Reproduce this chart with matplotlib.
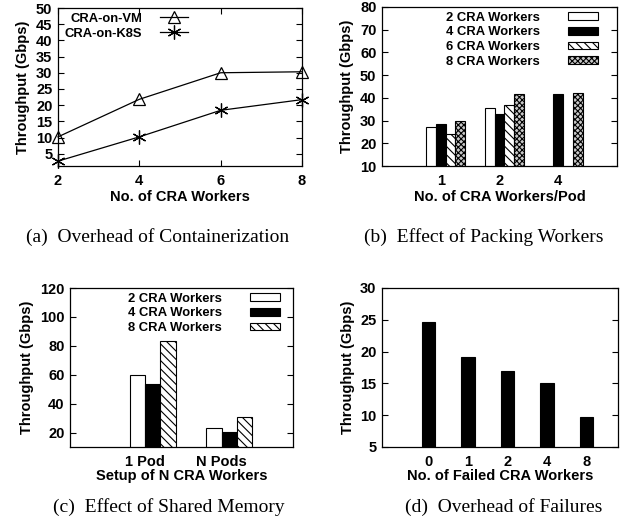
import numpy as np
import matplotlib
matplotlib.use('Agg')
import matplotlib.pyplot as plt

# (a) overhead of containerization
workers_a = [2, 4, 6, 8]
vm_tput = [10.2, 21.8, 30.0, 30.3]
k8s_tput = [2.7, 10.2, 18.4, 21.7]

# (b) effect of packing workers
pod_labels_b = ['1', '2', '4']
b_series = ['2 CRA Workers', '4 CRA Workers', '6 CRA Workers', '8 CRA Workers']
b_w2 = [27.1, 35.4, np.nan]
b_w4 = [28.3, 32.8, 41.6]
b_w6 = [24.0, 36.7, np.nan]
b_w8 = [29.6, 41.6, 42.2]

# (c) effect of shared memory
setup_labels_c = ['1 Pod', 'N Pods']
c_series = ['2 CRA Workers', '4 CRA Workers', '8 CRA Workers']
c_w2 = [60.0, 22.8]
c_w4 = [53.7, 20.7]
c_w8 = [83.5, 30.9]

# (d) overhead of failures
failed_labels_d = ['0', '1', '2', '4', '8']
d_tput = [24.7, 19.2, 17.0, 15.0, 9.7]

plt.rcParams['font.family'] = ['Liberation Sans', 'DejaVu Sans']
plt.rcParams['font.weight'] = 'bold'
plt.rcParams['hatch.linewidth'] = 0.8

FS = 10.5   # tick / axis label size
LFS = 9.4   # legend size

W, H = 629, 527
fig = plt.figure(figsize=(W / 100, H / 100), dpi=100)


def px_axes(left, top, right, bottom):
    return fig.add_axes([left / W, 1 - bottom / H, (right - left) / W, (bottom - top) / H])


def style(ax):
    ax.tick_params(direction='in', top=False, right=True, length=4, width=0.8,
                   labelsize=FS, pad=4)
    ax.tick_params(axis='x', pad=6)
    for s in ax.spines.values():
        s.set_linewidth(0.9)
    for lab in ax.get_xticklabels() + ax.get_yticklabels():
        lab.set_fontweight('bold')
    ax.set_ylabel('Throughput (Gbps)', fontsize=FS, fontweight='bold', labelpad=4)


def caption(x, y, txt):
    fig.text(x / W, 1 - y / H, txt, ha='center', va='center', fontsize=14,
             family='Liberation Serif', fontweight='normal')


# ---- (a)
ax = px_axes(58, 8, 302, 166)
ax.plot(workers_a, vm_tput, color='k', lw=0.9, marker='^', ms=8, mfc='none',
        mec='k', mew=0.9, label='CRA-on-VM', clip_on=False)
ax.plot(workers_a, k8s_tput, color='k', lw=0.9, marker=(6, 2, 0), ms=10,
        mew=0.9, label='CRA-on-K8S', clip_on=False)
ax.set_xlim(2, 8)
ax.set_ylim(1.2, 50)
ax.set_xticks(workers_a)
ax.set_yticks(range(5, 51, 5))
style(ax)
ax.tick_params(axis='x', top=True)
ax.set_xlabel('No. of CRA Workers', fontsize=FS, fontweight='bold', labelpad=1)
ax.legend(loc='upper right', bbox_to_anchor=(0.575, 1.035), frameon=False,
          markerfirst=False, fontsize=LFS, handlelength=2.1, handletextpad=1.4,
          labelspacing=0.2, borderpad=0.3)
caption(158, 237, '(a)  Overhead of Containerization')

# ---- (b)
ax = px_axes(382, 7, 617, 166)
wb = 1 / 6
xb = np.arange(len(pod_labels_b))
fills_b = [dict(facecolor='white', hatch=None),
           dict(facecolor='black', hatch=None),
           dict(facecolor='white', hatch='\\\\\\\\'),
           dict(facecolor='#c8c8c8', hatch='xxxxxx')]
for i, (vals, name) in enumerate(zip([b_w2, b_w4, b_w6, b_w8], b_series)):
    ax.bar(xb + (i - 1) * wb, vals, wb, bottom=0, edgecolor='black', linewidth=0.8,
           label=name, **fills_b[i])
ax.set_xlim(-1, 3)
ax.set_ylim(10, 80)
ax.set_xticks(xb)
ax.set_xticklabels(pod_labels_b)
ax.set_yticks(range(10, 81, 10))
style(ax)
ax.tick_params(axis='x', length=0)
ax.set_xlabel('No. of CRA Workers/Pod', fontsize=FS, fontweight='bold', labelpad=1)
ax.legend(loc='upper right', bbox_to_anchor=(0.965, 1.035), frameon=False,
          markerfirst=False, fontsize=LFS, handlelength=2.3, handleheight=0.55,
          handletextpad=2.2, labelspacing=0.2, borderpad=0.3)
caption(484, 237, '(b)  Effect of Packing Workers')

# ---- (c)
ax = px_axes(70, 288, 293, 447)
wc = 1 / 5
xc = np.arange(len(setup_labels_c))
fills_c = [dict(facecolor='white', hatch=None),
           dict(facecolor='black', hatch=None),
           dict(facecolor='white', hatch='\\\\\\\\')]
for i, (vals, name) in enumerate(zip([c_w2, c_w4, c_w8], c_series)):
    ax.bar(xc + (i - 0.5) * wc, vals, wc, bottom=0, edgecolor='black', linewidth=0.8,
           label=name, **fills_c[i])
ax.set_xlim(-0.98, 1.93)
ax.set_ylim(10, 120)
ax.set_xticks(xc)
ax.set_xticklabels(setup_labels_c)
ax.set_yticks(range(20, 121, 20))
style(ax)
ax.tick_params(axis='x', length=0)
ax.set_xlabel('Setup of N CRA Workers', fontsize=FS, fontweight='bold', labelpad=0)
ax.legend(loc='upper right', bbox_to_anchor=(0.99, 1.035), frameon=False,
          markerfirst=False, fontsize=LFS, handlelength=2.3, handleheight=0.55,
          handletextpad=2.2, labelspacing=0.2, borderpad=0.3)
caption(169, 507, '(c)  Effect of Shared Memory')

# ---- (d)
ax = px_axes(382, 288, 618, 447)
xd = np.arange(len(failed_labels_d))
ax.bar(xd, d_tput, 1 / 3, bottom=0, color='black', edgecolor='black', linewidth=0.8)
ax.set_xlim(-1.18, 4.8)
ax.set_ylim(5, 30)
ax.set_xticks(xd)
ax.set_xticklabels(failed_labels_d)
ax.set_yticks(range(5, 31, 5))
style(ax)
ax.tick_params(axis='x', length=0)
ax.set_xlabel('No. of Failed CRA Workers', fontsize=FS, fontweight='bold', labelpad=0)
caption(504, 507, '(d)  Overhead of Failures')

fig.savefig('out.png', dpi=100)
